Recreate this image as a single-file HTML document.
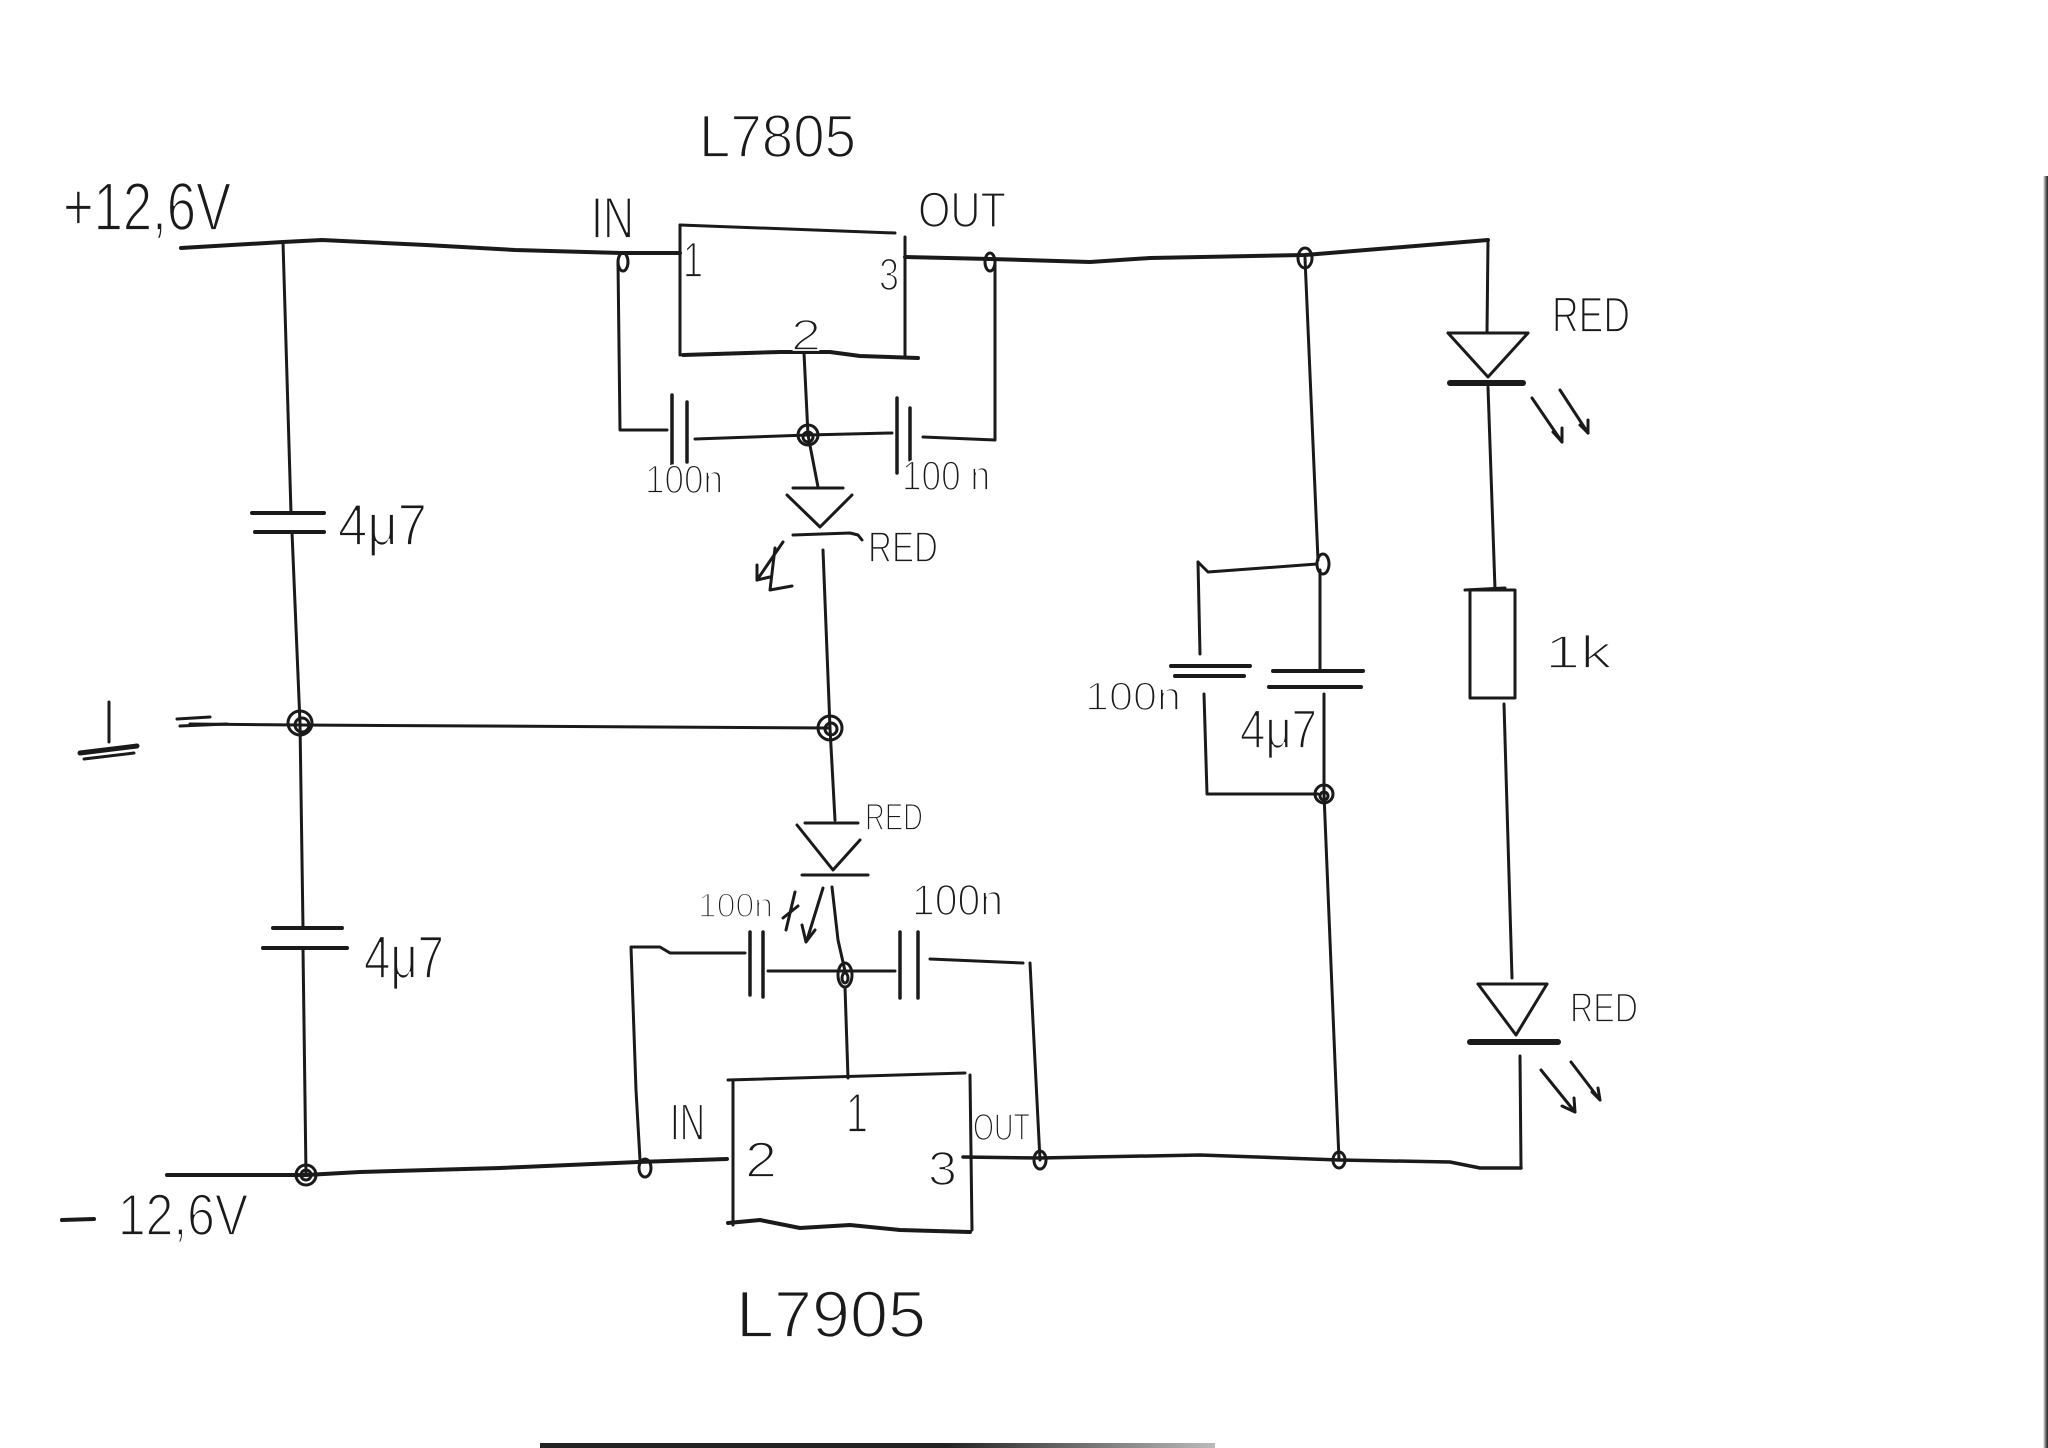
<!DOCTYPE html>
<html>
<head>
<meta charset="utf-8">
<style>
html,body{margin:0;padding:0;background:#fff;}
body{width:2048px;height:1448px;overflow:hidden;}
svg{display:block;}
text{font-family:"Liberation Sans","DejaVu Sans",sans-serif;fill:#1a1a1a;stroke:#fff;stroke-width:1.8px;}
</style>
</head>
<body>
<svg width="2048" height="1448" viewBox="0 0 2048 1448" xmlns="http://www.w3.org/2000/svg">
<rect x="0" y="0" width="2048" height="1448" fill="#fff"/>
<defs>
<linearGradient id="edge" x1="0" x2="1" y1="0" y2="0">
<stop offset="0" stop-color="#fff"/><stop offset="0.5" stop-color="#777"/><stop offset="1" stop-color="#222"/>
</linearGradient>
<linearGradient id="bot" x1="0" x2="1" y1="0" y2="0">
<stop offset="0" stop-color="#222"/><stop offset="0.6" stop-color="#222"/><stop offset="1" stop-color="#bbb"/>
</linearGradient>
</defs>

<!-- page edges -->
<rect x="2043" y="176" width="5" height="1272" fill="url(#edge)"/>
<rect x="540" y="1443" width="675" height="5" fill="url(#bot)"/>

<g stroke="#1a1a1a" fill="none" stroke-width="3" stroke-linecap="round" stroke-linejoin="round">

<!-- +12.6V rail -->
<path d="M181,248 L283,242 L322,240 L426,245 L515,250 L621,253 L680,253" stroke-width="4"/>
<ellipse cx="623" cy="262" rx="5" ry="9"/>

<!-- left vertical with caps -->
<path d="M283,242 L291,513"/>
<path d="M252,513 L324,513" stroke-width="4"/>
<path d="M255,532 L324,532" stroke-width="4"/>
<path d="M292,532 L300,723 L303,928"/>
<circle cx="300" cy="723" r="12"/>
<circle cx="302" cy="725" r="7"/>
<path d="M273,928 L342,928" stroke-width="4"/>
<path d="M263,948 L347,948" stroke-width="4"/>
<path d="M303,948 L306,1175"/>
<circle cx="306" cy="1175" r="10"/>
<circle cx="306" cy="1175" r="5"/>

<!-- ground symbol -->
<path d="M109,702 L109,742"/>
<path d="M80,753 L137,746" stroke-width="5"/>
<path d="M84,759 L134,753" stroke-width="3"/>
<path d="M177,719 L210,717"/>
<path d="M180,726 L227,724"/>
<path d="M190,724 L300,725 L830,728"/>

<!-- -12.6V rail -->
<path d="M167,1175 L306,1175 L360,1172 L500,1168 L638,1162 L727,1159" stroke-width="4"/>
<ellipse cx="645" cy="1168" rx="6" ry="9"/>
<path d="M62,1220 L94,1219" stroke-width="4"/>

<!-- L7805 box -->
<path d="M680,225 L895,233"/>
<path d="M680,225 L680,355"/>
<path d="M683,355 L780,352 L830,352 L860,356 L918,358" stroke-width="4"/>
<path d="M905,237 L905,357"/>
<path d="M905,257 L990,259 L1090,262 L1150,258 L1305,255 L1488,240" stroke-width="4"/>
<ellipse cx="990" cy="262" rx="5" ry="9"/>
<ellipse cx="1305" cy="258" rx="7" ry="10"/>

<!-- L7805 caps -->
<path d="M618,262 L620,430 L667,430"/>
<path d="M672,395 L672,465" stroke-width="3.5"/>
<path d="M687,402 L687,462" stroke-width="3.5"/>
<path d="M695,439 L808,435 L892,433"/>
<path d="M897,398 L897,473" stroke-width="3.5"/>
<path d="M910,408 L910,460" stroke-width="3.5"/>
<path d="M923,437 L995,440 L995,262"/>
<path d="M804,353 L808,435 L818,487"/>
<circle cx="808" cy="435" r="10"/>
<circle cx="808" cy="437" r="5"/>

<!-- top middle LED -->
<path d="M793,488 L843,488"/>
<path d="M787,495 L820,527 L852,495"/>
<path d="M793,535 L850,533 L858,535 L862,540"/>
<path d="M783,542 L757,580"/>
<path d="M757,565 L757,580 L770,577"/>
<path d="M775,548 L770,590 L792,586"/>
<path d="M823,550 L830,728"/>
<circle cx="830" cy="728" r="12"/>
<circle cx="831" cy="729" r="6"/>
<path d="M830,728 L835,820"/>

<!-- bottom middle LED -->
<path d="M805,823 L855,823 L858,823"/>
<path d="M797,825 L833,870 L860,840"/>
<path d="M802,875 L868,875"/>
<path d="M832,887 L838,940 L845,971"/>
<path d="M823,888 L807,940"/>
<path d="M802,925 L806,942 L815,930"/>
<path d="M795,892 L786,930"/>
<path d="M783,918 L798,906"/>
<ellipse cx="845" cy="975" rx="7" ry="12"/>
<ellipse cx="845" cy="978" rx="3" ry="5"/>
<path d="M845,987 L848,1078"/>

<!-- L7905 caps -->
<path d="M640,1160 L636,1090 L631,947 L660,947 L670,953 L745,953"/>
<path d="M750,932 L750,995" stroke-width="3.5"/>
<path d="M763,932 L763,997" stroke-width="3.5"/>
<path d="M768,971 L845,971 L895,971"/>
<path d="M900,932 L900,998" stroke-width="3.5"/>
<path d="M918,932 L918,998" stroke-width="3.5"/>
<path d="M930,959 L1023,963"/>
<path d="M1030,963 L1040,1160"/>
<ellipse cx="1040" cy="1160" rx="6" ry="9"/>

<!-- L7905 box -->
<path d="M728,1080 L965,1073"/>
<path d="M733,1080 L733,1225"/>
<path d="M970,1075 L972,1230"/>
<path d="M728,1223 L760,1220 L800,1228 L850,1225 L900,1230 L970,1232" stroke-width="4"/>
<path d="M963,1157 L1040,1158 L1200,1155 L1339,1160 L1450,1162 L1480,1168 L1521,1168" stroke-width="3.5"/>

<!-- right main vertical -->
<path d="M1305,258 L1318,560"/>
<ellipse cx="1323" cy="564" rx="6" ry="10"/>
<path d="M1320,570 L1320,671"/>
<path d="M1273,671 L1363,671" stroke-width="4"/>
<path d="M1269,687 L1361,687" stroke-width="4"/>
<path d="M1324,694 L1324,794 L1339,1160"/>
<circle cx="1324" cy="794" r="9"/>
<circle cx="1324" cy="796" r="4"/>
<ellipse cx="1339" cy="1160" rx="6" ry="8"/>

<!-- 100n branch -->
<path d="M1317,564 L1208,572 L1198,562"/>
<path d="M1198,562 L1200,654"/>
<path d="M1171,666 L1250,666" stroke-width="4"/>
<path d="M1175,676 L1244,676" stroke-width="4"/>
<path d="M1204,694 L1207,794 L1318,794"/>

<!-- right LED chain -->
<path d="M1488,240 L1487,333"/>
<path d="M1448,333 L1528,333"/>
<path d="M1448,333 L1488,377 L1528,333"/>
<path d="M1450,383 L1523,383" stroke-width="6"/>
<path d="M1488,387 L1495,589"/>
<path d="M1532,398 L1562,442"/>
<path d="M1553,432 L1562,442 L1562,428"/>
<path d="M1560,390 L1588,433"/>
<path d="M1580,425 L1588,433 L1588,420"/>
<path d="M1465,590 L1505,588"/>
<rect x="1470" y="590" width="45" height="108"/>
<path d="M1504,704 L1512,978"/>
<path d="M1478,984 L1547,984"/>
<path d="M1478,984 L1516,1035 L1547,984"/>
<path d="M1470,1042 L1558,1042" stroke-width="6"/>
<path d="M1520,1056 L1521,1168"/>
<path d="M1541,1070 L1575,1112"/>
<path d="M1562,1106 L1575,1112 L1574,1098"/>
<path d="M1571,1062 L1600,1100"/>
<path d="M1592,1092 L1600,1100 L1598,1088"/>
</g>

<!-- text labels -->
<text x="699" y="157" font-size="60" textLength="157" lengthAdjust="spacingAndGlyphs">L7805</text>
<text x="63" y="230" font-size="68" textLength="168" lengthAdjust="spacingAndGlyphs">+12,6V</text>
<text x="591" y="238" font-size="58" textLength="43" lengthAdjust="spacingAndGlyphs">IN</text>
<text x="918" y="227" font-size="50" textLength="88" lengthAdjust="spacingAndGlyphs">OUT</text>
<text x="683" y="277" font-size="50" textLength="20" lengthAdjust="spacingAndGlyphs">1</text>
<text x="879" y="290" font-size="45" textLength="20" lengthAdjust="spacingAndGlyphs">3</text>
<text x="791" y="350" font-size="44" textLength="30" lengthAdjust="spacingAndGlyphs">2</text>
<text x="645" y="493" font-size="40" textLength="78" lengthAdjust="spacingAndGlyphs">100n</text>
<text x="902" y="490" font-size="42" textLength="88" lengthAdjust="spacingAndGlyphs">100 n</text>
<text x="868" y="562" font-size="44" textLength="70" lengthAdjust="spacingAndGlyphs">RED</text>
<text x="338" y="545" font-size="58" textLength="89" lengthAdjust="spacingAndGlyphs">4μ7</text>
<text x="364" y="978" font-size="60" textLength="80" lengthAdjust="spacingAndGlyphs">4μ7</text>
<text x="865" y="830" font-size="38" textLength="58" lengthAdjust="spacingAndGlyphs">RED</text>
<text x="698" y="917" font-size="34" textLength="75" lengthAdjust="spacingAndGlyphs">100n</text>
<text x="912" y="915" font-size="44" textLength="91" lengthAdjust="spacingAndGlyphs">100n</text>
<text x="670" y="1140" font-size="52" textLength="35" lengthAdjust="spacingAndGlyphs">IN</text>
<text x="846" y="1132" font-size="56" textLength="22" lengthAdjust="spacingAndGlyphs">1</text>
<text x="745" y="1177" font-size="50" textLength="32" lengthAdjust="spacingAndGlyphs">2</text>
<text x="928" y="1185" font-size="48" textLength="29" lengthAdjust="spacingAndGlyphs">3</text>
<text x="973" y="1140" font-size="38" textLength="57" lengthAdjust="spacingAndGlyphs">OUT</text>
<text x="118" y="1235" font-size="58" textLength="130" lengthAdjust="spacingAndGlyphs">12,6V</text>
<text x="736" y="1337" font-size="66" textLength="190" lengthAdjust="spacingAndGlyphs">L7905</text>
<text x="1552" y="332" font-size="50" textLength="78" lengthAdjust="spacingAndGlyphs">RED</text>
<text x="1545" y="668" font-size="46" textLength="67" lengthAdjust="spacingAndGlyphs">1k</text>
<text x="1570" y="1022" font-size="42" textLength="68" lengthAdjust="spacingAndGlyphs">RED</text>
<text x="1085" y="710" font-size="40" textLength="96" lengthAdjust="spacingAndGlyphs">100n</text>
<text x="1240" y="748" font-size="55" textLength="77" lengthAdjust="spacingAndGlyphs">4μ7</text>
</svg>
</body>
</html>
